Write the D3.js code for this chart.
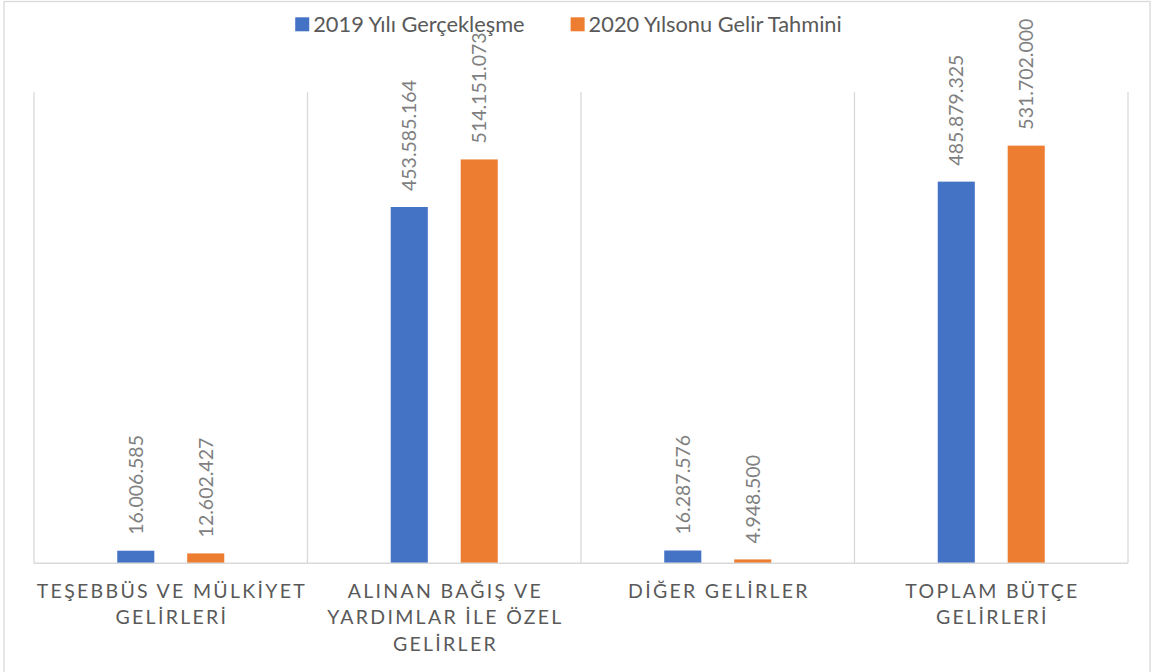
<!DOCTYPE html>
<html>
<head>
  <meta charset="utf-8">
  <title>Gelir Tahmini</title>
  <script src="https://d3js.org/d3.v7.min.js"></script>
  <style>
    body { margin: 0; background: #fff; }
    svg { display: block; font-family: Lato, "Open Sans", sans-serif; }
  </style>
</head>
<body>
  <svg id="chart" width="1153" height="672"></svg>

  <script>
    // Data
    const categories = [
      'TEŞEBBÜS VE MÜLKİYET\nGELİRLERİ',
      'ALINAN BAĞIŞ VE\nYARDIMLAR İLE ÖZEL\nGELİRLER',
      'DİĞER GELİRLER',
      'TOPLAM BÜTÇE\nGELİRLERİ'
    ];
    const seriesNames = ['2019 Yılı Gerçekleşme', '2020 Yılsonu Gelir Tahmini'];
    const values2019 = [16006585, 453585164, 16287576, 485879325];
    const values2020 = [12602427, 514151073, 4948500, 531702000];
    const colors = ['#4472C4', '#ED7D31'];

    const rows = categories.map((c, i) => ({ cat: c, vals: [values2019[i], values2020[i]] }));

    const svg = d3.select('#chart');
    const W = 1153, H = 672;
    const plotL = 34, plotR = 1128, plotT = 92, plotB = 563.3;

    // turkish number format 1.234.567
    const tr = d3.formatLocale({ decimal: ',', thousands: '.', grouping: [3], currency: ['', ' ₺'] });
    const fmt = tr.format(',d');

    // outer border
    svg.append('rect')
      .attr('x', 4).attr('y', 1.5)
      .attr('width', 1146).attr('height', H + 10)
      .attr('fill', 'none').attr('stroke', '#d9d9d9').attr('stroke-width', 1.3);

    const x0 = d3.scaleBand().domain(categories).range([plotL, plotR]).padding(0);
    const x1 = d3.scaleBand().domain([0, 1]).range([0, x0.bandwidth()])
      .paddingInner(0.47).paddingOuter(1.19);
    const y = d3.scaleLinear().domain([0, 600000000]).range([plotB, plotT]);

    // vertical separators between categories
    const seps = categories.map(c => x0(c)).concat([plotR]);
    svg.append('g').selectAll('line')
      .data(seps)
      .join('line')
      .attr('x1', d => d).attr('x2', d => d)
      .attr('y1', plotT).attr('y2', plotB)
      .attr('stroke', '#d9d9d9').attr('stroke-width', 1.3);

    // bars
    const groups = svg.append('g').selectAll('g')
      .data(rows)
      .join('g')
      .attr('transform', d => `translate(${x0(d.cat)},0)`);

    groups.selectAll('rect')
      .data(d => d.vals.map((v, i) => ({ v, i })))
      .join('rect')
      .attr('x', d => x1(d.i))
      .attr('width', x1.bandwidth())
      .attr('y', d => y(d.v))
      .attr('height', d => y(0) - y(d.v))
      .attr('fill', d => colors[d.i]);

    // value labels (rotated)
    groups.selectAll('text')
      .data(d => d.vals.map((v, i) => ({ v, i })))
      .join('text')
      .attr('transform', d => `translate(${x1(d.i) + x1.bandwidth() / 2},${y(d.v) - 16}) rotate(-90)`)
      .attr('dy', '0.36em')
      .attr('font-size', 19.5)
      .attr('fill', '#7f7f7f')
      .text(d => fmt(d.v));

    // x axis line
    svg.append('line')
      .attr('x1', plotL).attr('x2', plotR)
      .attr('y1', plotB).attr('y2', plotB)
      .attr('stroke', '#d9d9d9').attr('stroke-width', 1.5);

    // category labels
    svg.append('g').selectAll('text')
      .data(categories)
      .join('text')
      .attr('text-anchor', 'middle')
      .attr('font-size', 19.5)
      .attr('letter-spacing', 2.3)
      .attr('fill', '#595959')
      .each(function (c) {
        const t = d3.select(this);
        c.split('\n').forEach((line, k) => {
          t.append('tspan')
            .attr('x', x0(c) + x0.bandwidth() / 2 + 1.2)
            .attr('y', 598 + k * 26.3)
            .text(line);
        });
      });

    // legend
    const legend = svg.append('g');
    const items = legend.selectAll('g')
      .data(seriesNames)
      .join('g');
    items.append('rect')
      .attr('width', 14).attr('height', 14)
      .attr('y', 17.3)
      .attr('fill', (d, i) => colors[i]);
    items.append('text')
      .attr('x', 18)
      .attr('y', 31.7)
      .attr('font-size', 21.8)
      .attr('fill', '#595959')
      .text(d => d);
    const widths = [];
    items.each(function () {
      widths.push(this.getBBox().width);
    });
    const gap = 46;
    const total = d3.sum(widths) + gap * (widths.length - 1);
    let lx = 568.5 - total / 2;
    items.attr('transform', (d, i) => {
      const tx = lx;
      lx += widths[i] + gap;
      return `translate(${tx},0)`;
    });
  </script>
</body>
</html>
